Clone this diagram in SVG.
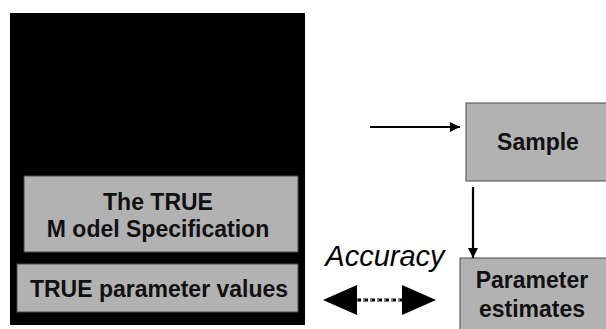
<svg xmlns="http://www.w3.org/2000/svg" width="606" height="329" viewBox="0 0 606 329">
<style>
.box{fill:#b2b2b2;stroke:#4a4a4a;stroke-width:1}
.lbl{font-family:"Liberation Sans",Arial,sans-serif;font-weight:bold;font-size:23px;fill:#111;text-anchor:middle}
.conn{stroke:#000;stroke-width:2.2;fill:none}
</style>
<defs>
<marker id="ah" viewBox="0 0 10 10" refX="10" refY="5" markerWidth="12" markerHeight="10" markerUnits="userSpaceOnUse" orient="auto">
<path d="M0,0 L10,5 L0,10 z" fill="#000"/>
</marker>
</defs>
<rect x="10" y="13" width="295" height="312" fill="#000"/>
<g id="model">
<rect class="box" x="24" y="176" width="274" height="76"/>
<text class="lbl" x="158" y="210">The TRUE</text>
<text class="lbl" x="158" y="237">M odel Specification</text>
</g>
<g id="values">
<rect class="box" x="17" y="264" width="281" height="48"/>
<text class="lbl" x="159" y="297">TRUE parameter values</text>
</g>
<g id="sample">
<rect class="box" x="466" y="103" width="145" height="78"/>
<text class="lbl" x="538" y="150">Sample</text>
</g>
<g id="estimates">
<rect class="box" x="460" y="258" width="150" height="75"/>
<text class="lbl" x="532" y="288">Parameter</text>
<text class="lbl" x="532" y="317">estimates</text>
</g>
<g id="connectors">
<line class="conn" x1="370" y1="127" x2="460" y2="127" marker-end="url(#ah)"/>
<line class="conn" x1="473" y1="187" x2="473" y2="258" marker-end="url(#ah)"/>
<line x1="356" y1="300" x2="403" y2="300" stroke="#000" stroke-width="3" stroke-dasharray="5 2"/>
<line x1="356" y1="300" x2="403" y2="300" stroke="#fff" stroke-width="1" stroke-dasharray="2 5"/>
<path d="M323,300 L357,285 L357,315 z" fill="#000"/>
<path d="M436,300 L402,285 L402,315 z" fill="#000"/>
<text x="385" y="266" font-family="'Liberation Sans',Arial,sans-serif" font-style="italic" font-size="29" text-anchor="middle" fill="#000">Accuracy</text>
</g>
</svg>
